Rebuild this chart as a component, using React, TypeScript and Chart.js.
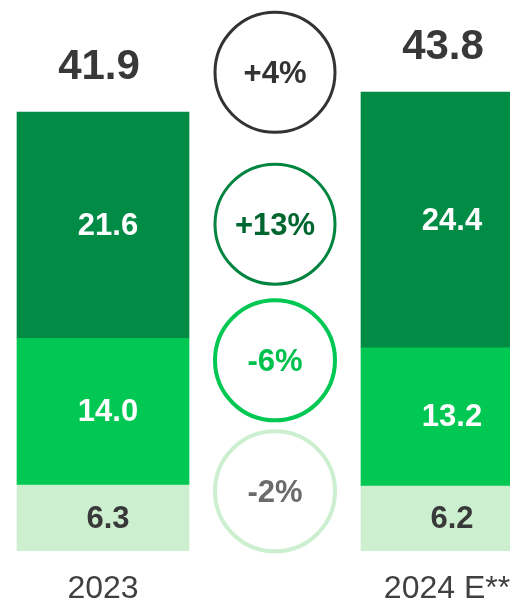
import React, { useEffect, useRef } from "react";
import { Chart, registerables } from "chart.js";

Chart.register(...registerables);

// ---- data ----
const categories = ["2023", "2024 E**"];
const lowerValues = [6.3, 6.2];
const middleValues = [14.0, 13.2];
const upperValues = [21.6, 24.4];
const totals = [41.9, 43.8];
const changeLabels = ["+4%", "+13%", "-6%", "-2%"];
const changeLevels = [45.7, 31.2, 18.2, 5.7];

// ---- styles ----
const FONT = '"Liberation Sans", Arial, Helvetica, sans-serif';
const DARK = "#008C45";
const BRIGHT = "#00C853";
const LIGHT = "#CCEFD0";
const TEXT_DARK = "#383838";
const circleStyles = [
  { stroke: "#333333", text: "#333333", width: 3 },
  { stroke: "#00843F", text: "#00662F", width: 3 },
  { stroke: "#00C853", text: "#00C04E", width: 4 },
  { stroke: "#CCEFD0", text: "#6B6B6B", width: 4 },
];
const labelColors = [TEXT_DARK, "#FFFFFF", "#FFFFFF"];

const overlayPlugin = {
  id: "overlay",
  afterDatasetsDraw(chart: any) {
    const ctx = chart.ctx;
    const xs = chart.scales.x;
    const ys = chart.scales.y;
    ctx.save();
    ctx.textAlign = "center";
    ctx.textBaseline = "middle";
    // segment labels
    chart.data.datasets.forEach((ds: any, di: number) => {
      const meta = chart.getDatasetMeta(di);
      meta.data.forEach((el: any, i: number) => {
        const v = ds.data[i];
        ctx.font = `bold 31px ${FONT}`;
        ctx.fillStyle = labelColors[di];
        ctx.fillText(v.toFixed(1), el.x + 5, (el.y + el.base) / 2 + 1);
      });
    });
    // totals
    const topMeta = chart.getDatasetMeta(chart.data.datasets.length - 1);
    topMeta.data.forEach((el: any, i: number) => {
      ctx.font = `bold 42px ${FONT}`;
      ctx.fillStyle = TEXT_DARK;
      ctx.fillText(totals[i].toFixed(1), el.x - 4, el.y - 45);
    });
    // change circles
    const cx = (xs.getPixelForValue(0) + xs.getPixelForValue(1)) / 2;
    changeLabels.forEach((lab, i) => {
      const cy = ys.getPixelForValue(changeLevels[i]);
      const st = circleStyles[i];
      ctx.beginPath();
      ctx.arc(cx, cy, 60, 0, Math.PI * 2);
      ctx.lineWidth = st.width;
      ctx.strokeStyle = st.stroke;
      ctx.stroke();
      ctx.font = `bold 31px ${FONT}`;
      ctx.fillStyle = st.text;
      ctx.fillText(lab, cx, cy + 2);
    });
    ctx.restore();
  },
};

export default function App() {
  const ref = useRef<HTMLCanvasElement | null>(null);
  useEffect(() => {
    if (!ref.current) return;
    const chart = new Chart(ref.current, {
      type: "bar",
      data: {
        labels: categories,
        datasets: [
          { label: "lower", data: lowerValues, backgroundColor: LIGHT, borderWidth: 0 },
          { label: "middle", data: middleValues, backgroundColor: BRIGHT, borderWidth: 0 },
          { label: "upper", data: upperValues, backgroundColor: DARK, borderWidth: 0 },
        ],
      },
      options: {
        animation: false,
        responsive: false,
        devicePixelRatio: 1,
        barThickness: 172,
        layout: { padding: 0 },
        plugins: {
          legend: { display: false },
          tooltip: { enabled: false },
        },
        scales: {
          x: {
            stacked: true,
            grid: { display: false, drawTicks: false },
            border: { display: false },
            ticks: {
              color: "#404040",
              padding: 22,
              maxRotation: 0,
              font: { family: FONT, size: 32, lineHeight: 1.0 },
            },
          },
          y: {
            stacked: true,
            display: false,
            min: 0,
            max: 52.6,
          },
        },
      } as any,
      plugins: [overlayPlugin],
    });
    return () => chart.destroy();
  }, []);

  return (
    <div
      style={{
        position: "fixed",
        left: 0,
        top: 0,
        width: 510,
        height: 601,
        overflow: "hidden",
        background: "#FFFFFF",
      }}
    >
      <canvas
        ref={ref}
        width={688}
        height={627}
        style={{ position: "absolute", left: -69, top: 0, width: 688, height: 627 }}
      />
    </div>
  );
}
